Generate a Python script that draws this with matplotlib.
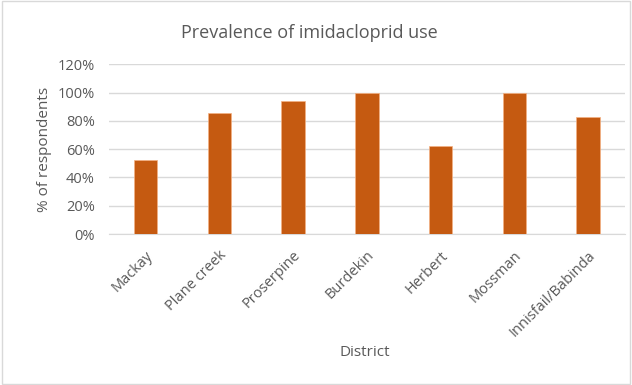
import matplotlib.pyplot as plt
from matplotlib.patches import Rectangle
from matplotlib.ticker import PercentFormatter

districts = ['Mackay', 'Plane creek', 'Proserpine', 'Burdekin', 'Herbert', 'Mossman', 'Innisfail/Babinda']
values = [0.525, 0.856, 0.943, 1.0, 0.626, 1.0, 0.83]

plt.rcParams['font.family'] = ['Open Sans', 'DejaVu Sans']
grey = '#595959'

fig = plt.figure(figsize=(6.32, 3.85), dpi=100)
ax = fig.add_axes([0.172, 0.392, 0.817, 0.441])

ax.bar(range(len(districts)), values, width=0.32, color='#C55A11', edgecolor='#F4B183', linewidth=0.5, zorder=3)
ax.set_xlim(-0.5, len(districts) - 0.5)
ax.set_ylim(0, 1.2)
ax.set_yticks([0, 0.2, 0.4, 0.6, 0.8, 1.0, 1.2])
ax.yaxis.set_major_formatter(PercentFormatter(1.0, decimals=0))
ax.grid(axis='y', color='#D9D9D9', linewidth=1, zorder=0)
for s in ['top', 'right', 'left']:
    ax.spines[s].set_visible(False)
ax.spines['bottom'].set_color('#D9D9D9')
ax.tick_params(axis='both', length=0, colors=grey, labelsize=10.5)
ax.tick_params(axis='y', pad=10)
ax.tick_params(axis='x', pad=10)
ax.set_xticks(range(len(districts)))
ax.set_xticklabels(districts, rotation=45, ha='right', rotation_mode='anchor')

ax.set_ylabel('% of respondents', color=grey, fontsize=11)
fig.text(0.578, 0.085, 'District', color=grey, fontsize=11, ha='center', va='center')
fig.text(0.49, 0.913, 'Prevalence of imidacloprid use', color=grey, fontsize=13, ha='center', va='center')

fig.patches.append(Rectangle((0.003, 0.003), 0.994, 0.994, transform=fig.transFigure,
                             fill=False, edgecolor='#D9D9D9', linewidth=1))

plt.savefig('out.png', dpi=100)
